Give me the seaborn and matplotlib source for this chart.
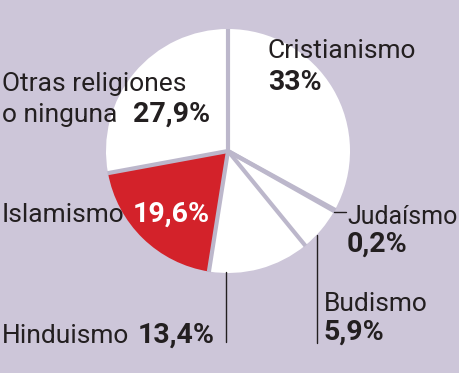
import matplotlib
matplotlib.use("Agg")
import matplotlib.pyplot as plt
import seaborn as sns
import numpy as np

categories = ["Cristianismo", "Judaísmo", "Budismo", "Hinduismo", "Islamismo", "Otras religiones\no ninguna"]
values = [33.0, 0.2, 5.9, 13.4, 19.6, 27.9]
value_labels = ["33%", "0,2%", "5,9%", "13,4%", "19,6%", "27,9%"]

sns.set_theme(style="white")
plt.rcParams['font.family'] = ['Roboto', 'DejaVu Sans']

BG = "#cdc6d9"
RED = "#d3222a"
EDGE = "#bcb7cb"
TXT = "#231f20"
colors = ["white", "white", "white", "white", RED, "white"]

W, H = 460, 373
fig = plt.figure(figsize=(W / 100, H / 100), dpi=100, facecolor=BG)
ax = fig.add_axes([0, 0, 1, 1])
ax.set_facecolor(BG)

cx, cy, r = 228, 151, 122
wedges, _ = ax.pie(values, colors=colors, startangle=-90, counterclock=True,
                   center=(cx, cy), radius=r, frame=True,
                   wedgeprops=dict(edgecolor="none", linewidth=0))
ax.set_xlim(0, W)
ax.set_ylim(H, 0)
ax.set_aspect("equal")
ax.axis("off")

# separators between slices
for w in wedges:
    th = np.deg2rad(w.theta1)
    ax.plot([cx, cx + (r + 0.5) * np.cos(th)], [cy, cy + (r + 0.5) * np.sin(th)],
            color=EDGE, lw=3, solid_capstyle="butt", zorder=3)

fs, fsb = 19, 20.5
def t(x, y, s, bold=False, color=TXT, size=None):
    ax.text(x, y, s, fontsize=size or (fsb if bold else fs),
            fontweight="bold" if bold else "normal",
            color=color, ha="left", va="baseline", zorder=5)

t(268, 58, categories[0]); t(268, 90, value_labels[0], True)
t(2, 91, "Otras religiones"); t(2, 122, "o ninguna"); t(133, 122, value_labels[5], True)
t(2, 222, categories[4]); t(133, 222, value_labels[4], True, "white")
t(347, 224, categories[1], size=18); t(347, 252, value_labels[1], True)
t(324, 311, categories[2]); t(324, 340, value_labels[2], True)
t(2, 343, categories[3]); t(138, 343, value_labels[3], True)

ax.plot([334, 346], [212, 212], color=TXT, lw=1, zorder=4)
ax.plot([317, 317], [235, 343], color=TXT, lw=1, zorder=4)
ax.plot([226, 226], [272, 342], color=TXT, lw=1, zorder=4)

fig.savefig("out.png", dpi=100, facecolor=BG)
